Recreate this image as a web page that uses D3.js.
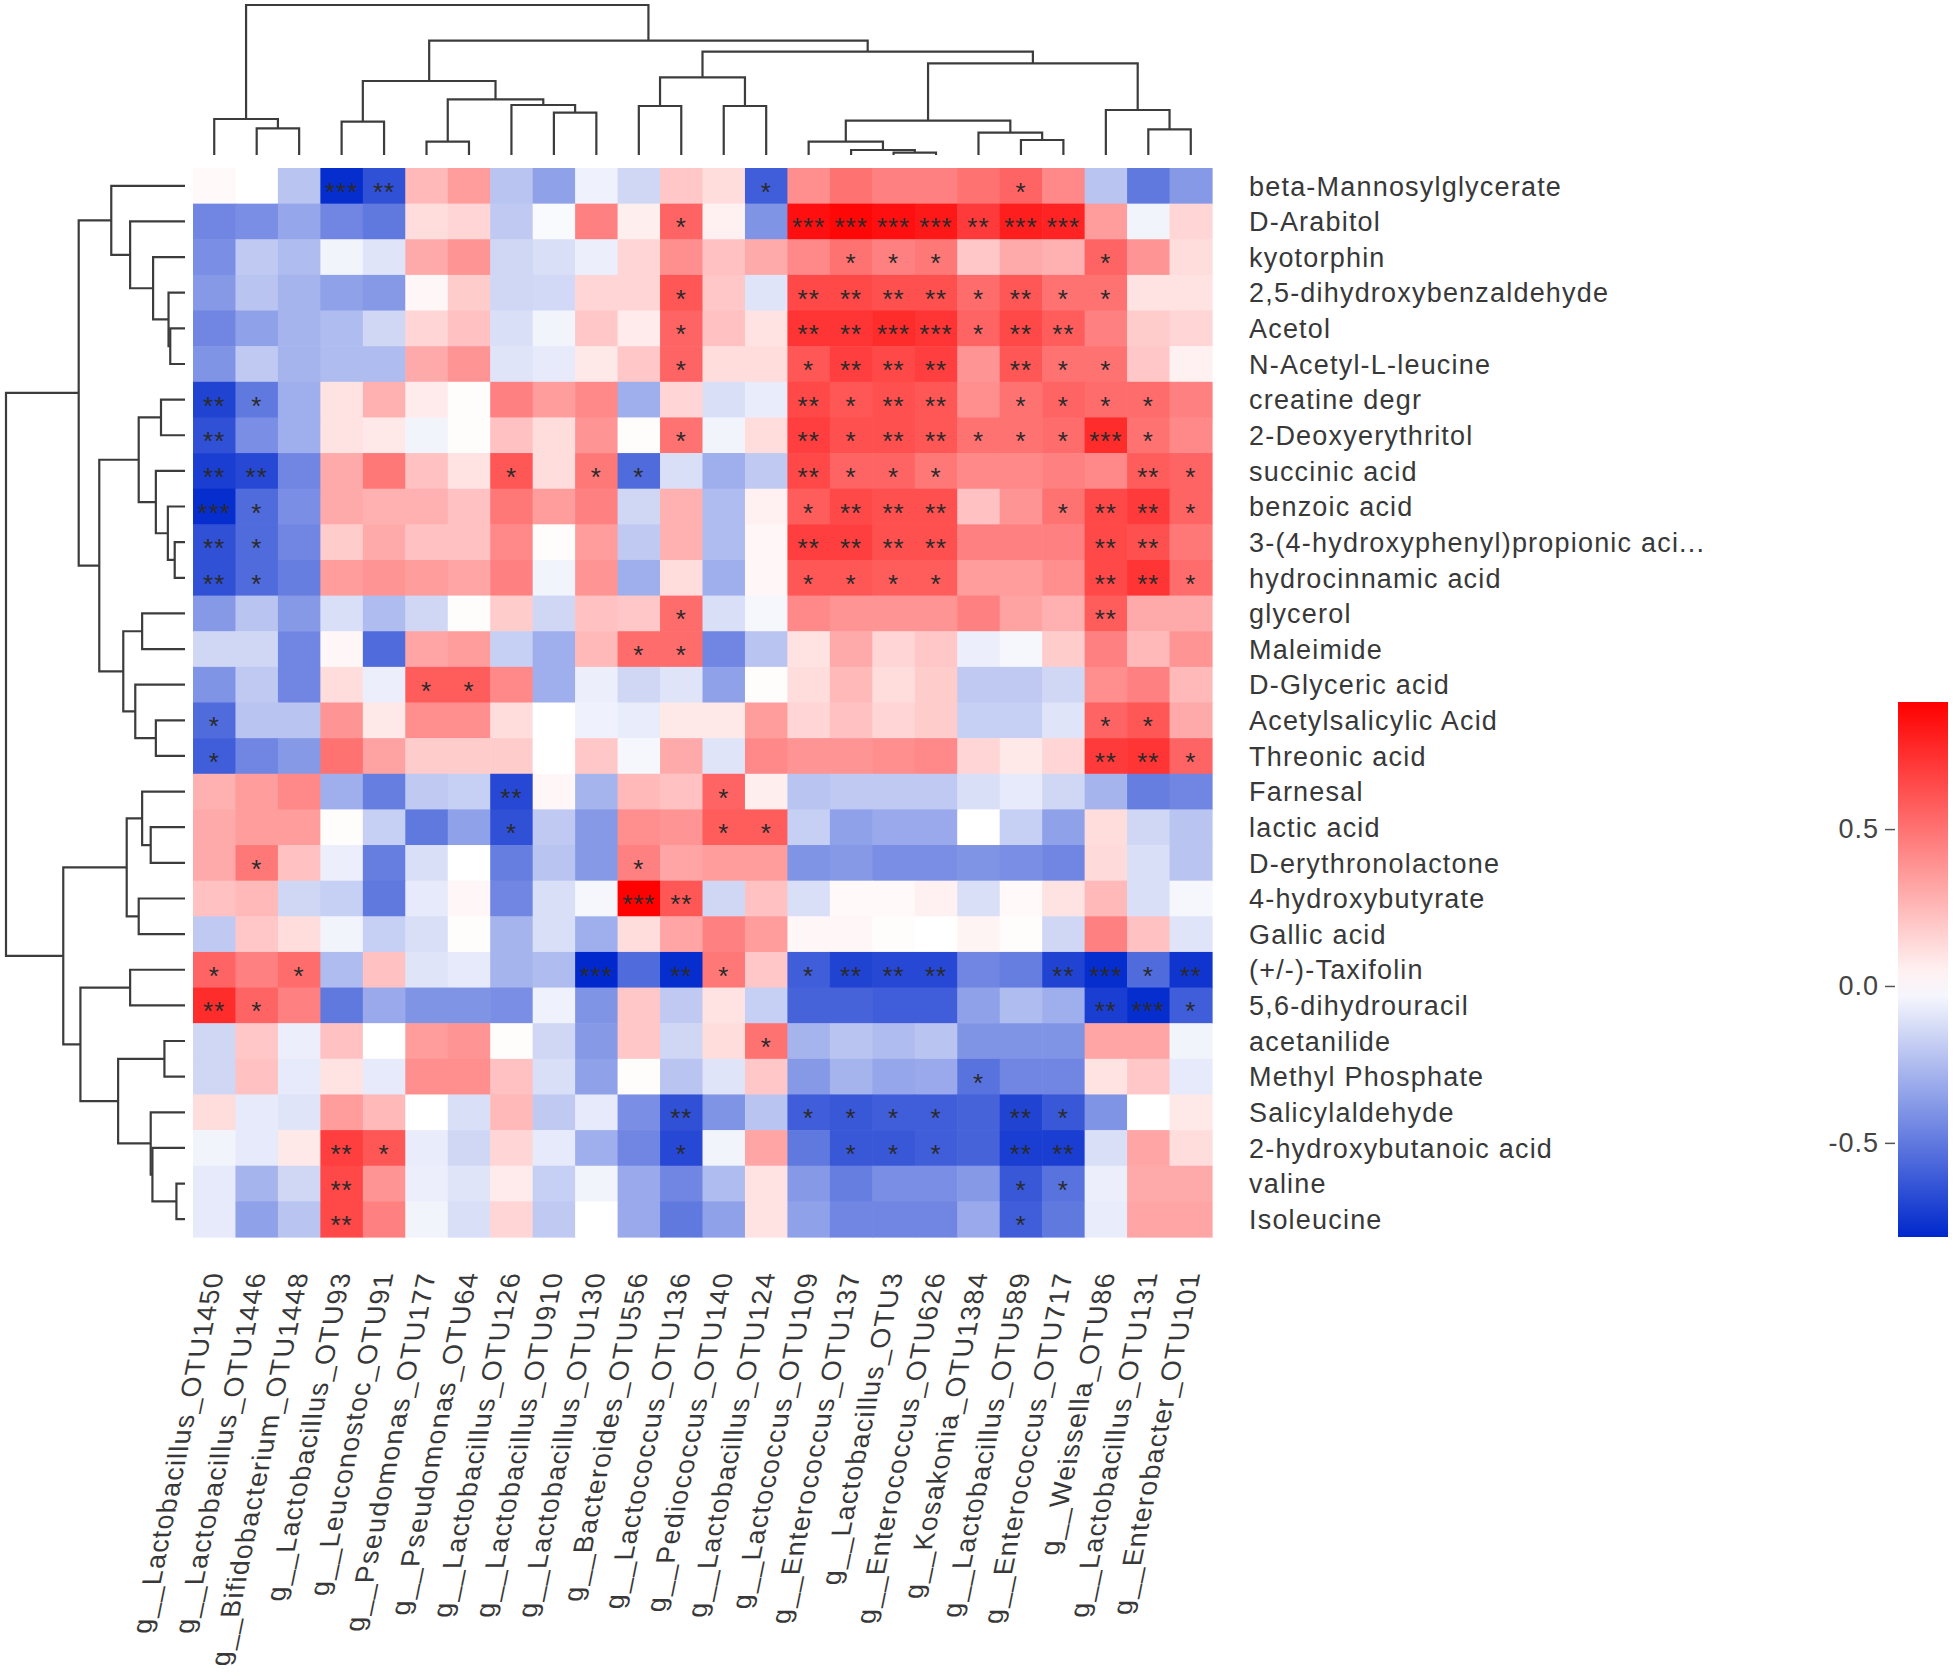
<!DOCTYPE html>
<html><head><meta charset="utf-8">
<script src="https://cdn.jsdelivr.net/npm/d3@7"></script>
<style>
body{margin:0;background:#fff;}
text{font-family:"Liberation Sans",Arial,Helvetica,sans-serif;}
</style>
</head><body>
<svg id="chart" width="1955" height="1677"></svg>
<script>
const columns = ["g__Lactobacillus_OTU1450","g__Lactobacillus_OTU1446","g__Bifidobacterium_OTU1448","g__Lactobacillus_OTU93","g__Leuconostoc_OTU91","g__Pseudomonas_OTU177","g__Pseudomonas_OTU64","g__Lactobacillus_OTU126","g__Lactobacillus_OTU910","g__Lactobacillus_OTU130","g__Bacteroides_OTU556","g__Lactococcus_OTU136","g__Pediococcus_OTU140","g__Lactobacillus_OTU124","g__Lactococcus_OTU109","g__Enterococcus_OTU137","g__Lactobacillus_OTU3","g__Enterococcus_OTU626","g__Kosakonia_OTU1384","g__Lactobacillus_OTU589","g__Enterococcus_OTU717","g__Weissella_OTU86","g__Lactobacillus_OTU131","g__Enterobacter_OTU101"];

const rows = ["beta-Mannosylglycerate","D-Arabitol","kyotorphin","2,5-dihydroxybenzaldehyde","Acetol","N-Acetyl-L-leucine","creatine degr","2-Deoxyerythritol","succinic acid","benzoic acid","3-(4-hydroxyphenyl)propionic aci...","hydrocinnamic acid","glycerol","Maleimide","D-Glyceric acid","Acetylsalicylic Acid","Threonic acid","Farnesal","lactic acid","D-erythronolactone","4-hydroxybutyrate","Gallic acid","(+/-)-Taxifolin","5,6-dihydrouracil","acetanilide","Methyl Phosphate","Salicylaldehyde","2-hydroxybutanoic acid","valine","Isoleucine"];

// correlation coefficients, one array per metabolite (row), in column order
const corr = [
[0.02,0,-0.22,-0.78,-0.65,0.25,0.35,-0.22,-0.35,-0.05,-0.15,0.2,0.12,-0.6,0.4,0.5,0.45,0.45,0.5,0.55,0.42,-0.22,-0.5,-0.38],
[-0.45,-0.42,-0.33,-0.45,-0.5,0.12,0.15,-0.2,-0.02,0.45,0.06,0.55,0.05,-0.4,0.85,0.88,0.85,0.82,0.7,0.8,0.78,0.35,-0.04,0.15],
[-0.42,-0.2,-0.25,-0.04,-0.1,0.3,0.38,-0.15,-0.12,-0.06,0.15,0.4,0.22,0.3,0.42,0.5,0.45,0.48,0.2,0.3,0.28,0.55,0.38,0.12],
[-0.38,-0.22,-0.28,-0.35,-0.38,0.03,0.18,-0.15,-0.14,0.15,0.15,0.6,0.2,-0.1,0.65,0.65,0.62,0.62,0.52,0.6,0.5,0.5,0.1,0.1],
[-0.45,-0.35,-0.28,-0.25,-0.15,0.15,0.22,-0.12,-0.04,0.2,0.07,0.55,0.22,0.1,0.72,0.72,0.75,0.72,0.55,0.65,0.58,0.45,0.18,0.15],
[-0.4,-0.2,-0.28,-0.25,-0.25,0.3,0.38,-0.1,-0.08,0.08,0.2,0.55,0.12,0.12,0.6,0.68,0.65,0.68,0.38,0.6,0.5,0.5,0.2,0.05],
[-0.7,-0.5,-0.3,0.1,0.28,0.07,0.01,0.45,0.35,0.42,-0.3,0.15,-0.12,-0.07,0.65,0.6,0.62,0.6,0.4,0.5,0.55,0.52,0.52,0.45],
[-0.65,-0.42,-0.3,0.1,0.08,-0.04,0.01,0.22,0.12,0.38,0.01,0.5,-0.04,0.12,0.68,0.62,0.62,0.6,0.5,0.5,0.52,0.75,0.5,0.42],
[-0.72,-0.68,-0.45,0.3,0.48,0.22,0.1,0.6,0.12,0.48,-0.55,-0.12,-0.3,-0.2,0.65,0.55,0.55,0.48,0.42,0.42,0.45,0.42,0.58,0.55],
[-0.78,-0.55,-0.42,0.3,0.28,0.28,0.22,0.48,0.35,0.45,-0.15,0.28,-0.25,0.05,0.58,0.65,0.62,0.62,0.22,0.38,0.5,0.65,0.7,0.55],
[-0.65,-0.55,-0.45,0.18,0.3,0.22,0.22,0.42,0.01,0.35,-0.2,0.28,-0.25,0.03,0.68,0.68,0.62,0.62,0.45,0.45,0.45,0.65,0.62,0.48],
[-0.65,-0.55,-0.48,0.35,0.38,0.35,0.32,0.45,-0.04,0.38,-0.3,0.12,-0.3,0.03,0.6,0.6,0.58,0.58,0.35,0.35,0.4,0.65,0.72,0.52],
[-0.38,-0.22,-0.38,-0.12,-0.25,-0.15,0.01,0.18,-0.15,0.22,0.2,0.52,-0.12,-0.03,0.42,0.38,0.38,0.38,0.45,0.33,0.28,0.58,0.3,0.3],
[-0.15,-0.15,-0.45,0.03,-0.55,0.32,0.35,-0.18,-0.3,0.25,0.52,0.52,-0.45,-0.22,0.1,0.3,0.15,0.2,-0.06,-0.03,0.18,0.45,0.25,0.38],
[-0.4,-0.2,-0.45,0.12,-0.06,0.58,0.58,0.42,-0.3,-0.06,-0.15,-0.1,-0.35,0.01,0.12,0.25,0.12,0.18,-0.2,-0.2,-0.15,0.4,0.45,0.25],
[-0.55,-0.22,-0.22,0.38,0.08,0.4,0.4,0.12,0,-0.05,-0.07,0.08,0.08,0.35,0.15,0.22,0.15,0.18,-0.18,-0.18,-0.1,0.55,0.6,0.3],
[-0.6,-0.45,-0.38,0.5,0.33,0.18,0.18,0.18,0,0.2,-0.03,0.3,-0.1,0.42,0.38,0.38,0.4,0.42,0.15,0.08,0.15,0.7,0.72,0.55],
[0.28,0.35,0.42,-0.3,-0.48,-0.2,-0.18,-0.68,0.03,-0.28,0.25,0.22,0.55,0.06,-0.22,-0.2,-0.2,-0.2,-0.12,-0.08,-0.15,-0.28,-0.48,-0.45],
[0.3,0.35,0.35,0.01,-0.18,-0.5,-0.35,-0.65,-0.2,-0.38,0.4,0.38,0.58,0.58,-0.18,-0.35,-0.32,-0.32,0,-0.18,-0.35,0.12,-0.15,-0.22],
[0.3,0.48,0.22,-0.06,-0.48,-0.12,0,-0.48,-0.22,-0.38,0.45,0.32,0.35,0.35,-0.4,-0.38,-0.42,-0.42,-0.4,-0.42,-0.45,0.13,-0.12,-0.22],
[0.22,0.25,-0.15,-0.18,-0.5,-0.08,0.03,-0.45,-0.12,-0.03,0.9,0.6,-0.15,0.22,-0.12,0.02,0.02,0.05,-0.12,0.02,0.1,0.25,-0.12,-0.03],
[-0.2,0.2,0.12,-0.04,-0.18,-0.12,0.01,-0.28,-0.12,-0.3,0.12,0.32,0.45,0.35,0.03,0.03,0.01,0,0.04,0.01,-0.15,0.45,0.22,-0.1],
[0.55,0.45,0.52,-0.25,0.22,-0.1,-0.08,-0.28,-0.25,-0.8,-0.55,-0.78,0.48,0.2,-0.6,-0.7,-0.68,-0.68,-0.45,-0.48,-0.7,-0.78,-0.55,-0.75],
[0.75,0.55,0.45,-0.5,-0.32,-0.4,-0.4,-0.42,-0.05,-0.4,0.2,-0.2,0.1,-0.18,-0.58,-0.58,-0.6,-0.6,-0.35,-0.25,-0.3,-0.72,-0.78,-0.6],
[-0.15,0.2,-0.06,0.22,0,0.35,0.38,0.01,-0.15,-0.38,0.2,-0.15,0.12,0.5,-0.28,-0.22,-0.25,-0.22,-0.4,-0.4,-0.4,0.32,0.32,-0.04],
[-0.15,0.22,-0.08,0.1,-0.08,0.4,0.4,0.22,-0.12,-0.35,0.01,-0.22,-0.1,0.2,-0.38,-0.28,-0.33,-0.32,-0.52,-0.45,-0.45,0.1,0.2,-0.08],
[0.12,-0.08,-0.1,0.35,0.25,0,-0.12,0.25,-0.2,-0.08,-0.42,-0.65,-0.4,-0.22,-0.6,-0.62,-0.6,-0.6,-0.58,-0.7,-0.62,-0.4,0,0.08],
[-0.04,-0.08,0.08,0.68,0.6,-0.07,-0.15,0.15,-0.08,-0.3,-0.45,-0.68,-0.04,0.32,-0.5,-0.62,-0.62,-0.6,-0.58,-0.72,-0.72,-0.12,0.32,0.12],
[-0.08,-0.28,-0.15,0.65,0.38,-0.06,-0.1,0.07,-0.18,-0.04,-0.32,-0.45,-0.25,0.1,-0.38,-0.48,-0.42,-0.42,-0.38,-0.62,-0.52,-0.06,0.3,0.3],
[-0.08,-0.35,-0.22,0.65,0.45,-0.04,-0.12,0.15,-0.2,0,-0.32,-0.5,-0.35,0.1,-0.35,-0.45,-0.45,-0.45,-0.32,-0.6,-0.5,-0.07,0.32,0.32]
];

// number of significance stars per cell (one digit per column)
const sig = [
"000320000000010000010000","000000000001003333233000","000000000000000111000100","000000000001002222121100",
"000000000001002233122000","000000000001001222021100","210000000000002122011110","200000000001002122111310",
"220000010110002111000021","310000000000001222001221","210000000000002222000220","210000000000001111000221",
"000000000001000000000200","000000000011000000000000","000001100000000000000000","100000000000000000000110",
"100000000000000000000221","000000020000100000000000","000000010000110000000000","010000000010000000000000",
"000000000032000000000000","000000000000000000000000","101000000302101222002312","210000000000000000000231",
"000000000000010000000000","000000000000000000100000","000000000002001111021000","000210000001000111022000",
"000200000000000000011000","000200000000000000010000"
];

// hclust-style merges: negative = leaf -(index+1), positive = earlier merge step; third value = height
const colMerges = [
[-17,-18,7],[-16,1,15],[-15,2,40],[-20,-21,45],[-19,4,67],[3,5,103],[-23,-24,77],[-22,7,135],[6,8,275],
[-11,-12,147],[-13,-14,147],[10,11,233],[12,9,310],[-9,-10,127],[-8,14,150],[-6,-7,40],[16,15,167],
[-4,-5,100],[18,17,222],[19,13,343],[-2,-3,80],[-1,21,108],[22,20,450]
];
const rowMerges = [
[-5,-6,43],[-4,1,48],[-3,2,93],[-2,3,160],[-1,4,215],[-11,-12,30],[-10,6,50],[-9,7,85],[-7,-8,70],[9,8,135],
[-13,-14,125],[-16,-17,85],[-15,12,145],[11,13,180],[10,14,250],[5,15,310],[-19,-20,100],[-18,17,125],
[-21,-22,135],[18,19,170],[-23,-24,160],[-25,-26,60],[-29,-30,25],[-28,23,95],[-27,24,100],[22,25,195],
[21,26,305],[20,27,355],[16,28,522]
];

const colorStops = [-0.80, 0, 0.905];
const colorRange = ["#0028cc", "#ffffff", "#ff0000"];
const colorTicks = [0.5, 0.0, -0.5];

const svg = d3.select("#chart");
const x = d3.scaleBand().domain(d3.range(columns.length)).range([193, 1212]);
const y = d3.scaleBand().domain(d3.range(rows.length)).range([168, 1237]);
const color = d3.scaleLinear().domain(colorStops).range(colorRange).clamp(true);

const cells = [];
corr.forEach((r, i) => r.forEach((v, j) => cells.push({i, j, v, s: +sig[i][j]})));

svg.append("g").selectAll("rect").data(cells).join("rect")
  .attr("x", d => x(d.j)).attr("y", d => y(d.i))
  .attr("width", x.bandwidth() + 0.6).attr("height", y.bandwidth() + 0.6)
  .attr("fill", d => color(d.v));

svg.append("g").selectAll("text").data(cells.filter(d => d.s > 0)).join("text")
  .attr("x", d => x(d.j) + x.bandwidth() / 2)
  .attr("y", d => y(d.i) + y.bandwidth() / 2 + 15)
  .attr("text-anchor", "middle")
  .attr("font-size", 26).attr("letter-spacing", 1)
  .attr("fill", "#2a2a2a")
  .text(d => "*".repeat(d.s));

// dendrograms
function drawDendro(merges, leafPos, h, orient) {
  const nodes = [];
  const get = id => id < 0 ? {pos: leafPos(-id - 1), h: 0} : nodes[id - 1];
  const g = svg.append("g").attr("fill", "none").attr("stroke", "#3c3c3c").attr("stroke-width", 2.2);
  merges.forEach(([a, b, ht]) => {
    const A = get(a), B = get(b);
    nodes.push({pos: (A.pos + B.pos) / 2, h: ht});
    const d = orient === "top"
      ? `M${A.pos},${h(A.h)}V${h(ht)}H${B.pos}V${h(B.h)}`
      : `M${h(A.h)},${A.pos}H${h(ht)}V${B.pos}H${h(B.h)}`;
    g.append("path").attr("d", d);
  });
}
drawDendro(colMerges, j => x(j) + x.bandwidth() / 2, d3.scaleLinear().domain([0, 450]).range([155, 5]), "top");
drawDendro(rowMerges, i => y(i) + y.bandwidth() / 2, d3.scaleLinear().domain([0, 522]).range([185, 6]), "left");

// row labels
svg.append("g").selectAll("text").data(rows).join("text")
  .attr("x", 1249).attr("y", (d, i) => y(i) + y.bandwidth() / 2)
  .attr("dy", "0.36em")
  .attr("font-size", 27).attr("letter-spacing", 1.2).attr("fill", "#383838")
  .text(d => d);

// column labels
svg.append("g").selectAll("text").data(columns).join("text")
  .attr("transform", (d, j) => `translate(${x(j) + x.bandwidth() / 2},1272) rotate(-90) skewY(11.5)`)
  .attr("text-anchor", "end").attr("dy", "0.36em")
  .attr("font-size", 27).attr("letter-spacing", 1.2).attr("fill", "#383838")
  .text(d => d);

// colour bar
const cb = d3.scaleLinear().domain([colorStops[0], colorStops[2]]).range([1237, 702]);
const grad = svg.append("defs").append("linearGradient").attr("id", "cbGrad")
  .attr("x1", 0).attr("y1", 1).attr("x2", 0).attr("y2", 0);
d3.range(0, 1.0001, 0.05).forEach(t => {
  const v = colorStops[0] + t * (colorStops[2] - colorStops[0]);
  grad.append("stop").attr("offset", t).attr("stop-color", color(v));
});
svg.append("rect").attr("x", 1898).attr("y", 702).attr("width", 50).attr("height", 535)
  .attr("fill", "url(#cbGrad)");
const axis = svg.append("g").attr("transform", "translate(1895,0)")
  .call(d3.axisLeft(cb).tickValues(colorTicks).tickSize(10).tickPadding(6).tickFormat(d => d.toFixed(1)));
axis.select(".domain").remove();
axis.selectAll(".tick line").attr("stroke", "#555").attr("stroke-width", 1.5);
axis.selectAll(".tick text").attr("font-size", 27).attr("letter-spacing", 1).attr("fill", "#444")
  .attr("font-family", "'Liberation Sans',Arial,sans-serif");
</script>
</body></html>
